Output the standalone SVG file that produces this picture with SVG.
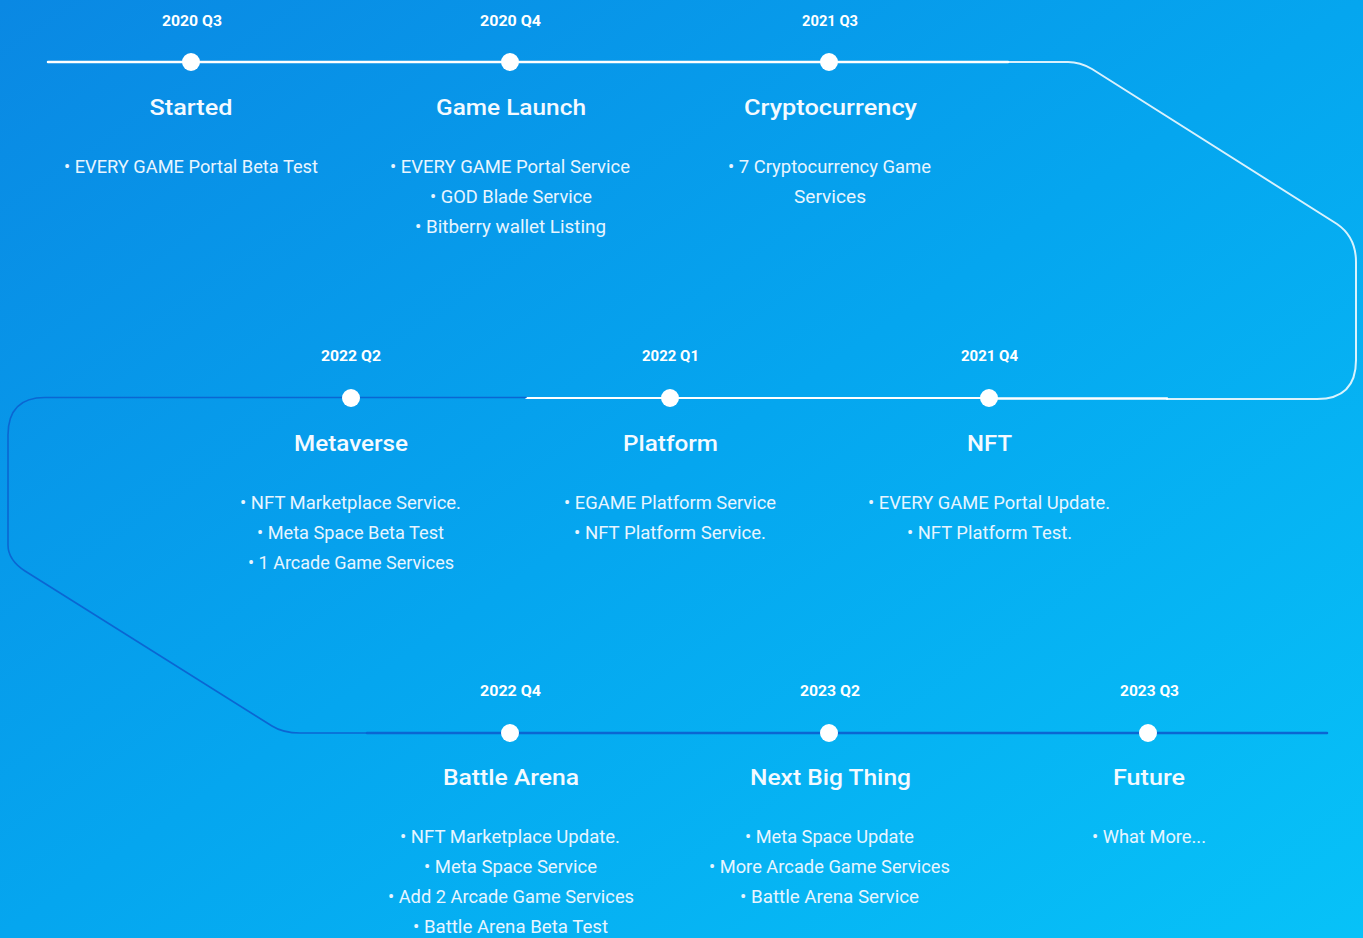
<svg xmlns="http://www.w3.org/2000/svg" width="1363" height="938" viewBox="0 0 1363 938">
<defs>
<linearGradient id="bg" x1="0" y1="0" x2="1" y2="1">
<stop offset="0" stop-color="#0a88e3"/>
<stop offset="0.5" stop-color="#05a6ef"/>
<stop offset="1" stop-color="#07c2f8"/>
</linearGradient>
<style>
.date{font-family:Roboto,"Liberation Sans",sans-serif;font-weight:700;font-size:15px;fill:#ffffff;text-anchor:middle}
.title{font-family:Roboto,"Liberation Sans",sans-serif;font-weight:500;font-size:22px;fill:#f4faff;text-anchor:middle}
.item{font-family:Roboto,"Liberation Sans",sans-serif;font-weight:400;font-size:18px;fill:#e8f5ff;text-anchor:middle}
.dot{fill:#ffffff}
.w{fill:none;stroke:#ffffff;stroke-linecap:round}
.b{fill:none;stroke:#0b66d2;stroke-linecap:round}
</style>
</defs>
<rect width="1363" height="938" fill="url(#bg)"/>
<g id="connectors">
<path class="w" d="M48,62 H1008" stroke-width="2.5"/>
<path class="w" d="M1008,62 H1068 Q1080,62 1092,69 L1337,224 Q1356,237 1356,262 V360 Q1356,399 1317,399 H1167" stroke-width="2" stroke-opacity="0.85"/>
<path class="w" d="M989,398.5 H1167" stroke-width="2.5"/>
<path class="w" d="M526,398 H989" stroke-width="1.8"/>
<path class="b" d="M526,397.5 H45 Q8,397.5 8,435 V545 Q8,560 25,571 L272,726 Q283,733 300,733 H367" stroke-width="1.6"/>
<path class="b" d="M367,733 H1327" stroke-width="2.5"/>
</g>
<g id="n-2020q3">
<circle class="dot" cx="191" cy="62" r="9"/>
<text class="date" x="192" y="26" textLength="60" lengthAdjust="spacingAndGlyphs">2020 Q3</text>
<text class="title" x="191" y="115" textLength="83" lengthAdjust="spacingAndGlyphs">Started</text>
<text class="item" x="191" y="173" textLength="254" lengthAdjust="spacingAndGlyphs">• EVERY GAME Portal Beta Test</text>
</g>
<g id="n-2020q4">
<circle class="dot" cx="510" cy="62" r="9"/>
<text class="date" x="510.5" y="26" textLength="61" lengthAdjust="spacingAndGlyphs">2020 Q4</text>
<text class="title" x="511" y="115" textLength="150" lengthAdjust="spacingAndGlyphs">Game Launch</text>
<text class="item" x="510" y="173" textLength="240" lengthAdjust="spacingAndGlyphs">• EVERY GAME Portal Service</text>
<text class="item" x="511" y="203" textLength="162" lengthAdjust="spacingAndGlyphs">• GOD Blade Service</text>
<text class="item" x="510.5" y="233" textLength="191" lengthAdjust="spacingAndGlyphs">• Bitberry wallet Listing</text>
</g>
<g id="n-2021q3">
<circle class="dot" cx="829" cy="62" r="9"/>
<text class="date" x="830" y="26" textLength="56" lengthAdjust="spacingAndGlyphs">2021 Q3</text>
<text class="title" x="830.5" y="115" textLength="173" lengthAdjust="spacingAndGlyphs">Cryptocurrency</text>
<text class="item" x="829.5" y="173" textLength="203" lengthAdjust="spacingAndGlyphs">• 7 Cryptocurrency Game</text>
<text class="item" x="830" y="203" textLength="72" lengthAdjust="spacingAndGlyphs">Services</text>
</g>
<g id="n-2021q4">
<circle class="dot" cx="989" cy="398" r="9"/>
<text class="date" x="989.5" y="361" textLength="57" lengthAdjust="spacingAndGlyphs">2021 Q4</text>
<text class="title" x="989.5" y="451" textLength="45" lengthAdjust="spacingAndGlyphs">NFT</text>
<text class="item" x="989" y="509" textLength="242" lengthAdjust="spacingAndGlyphs">• EVERY GAME Portal Update.</text>
<text class="item" x="989.5" y="539" textLength="165" lengthAdjust="spacingAndGlyphs">• NFT Platform Test.</text>
</g>
<g id="n-2022q1">
<circle class="dot" cx="670" cy="398" r="9"/>
<text class="date" x="670.5" y="361" textLength="57" lengthAdjust="spacingAndGlyphs">2022 Q1</text>
<text class="title" x="670.5" y="451" textLength="95" lengthAdjust="spacingAndGlyphs">Platform</text>
<text class="item" x="670" y="509" textLength="212" lengthAdjust="spacingAndGlyphs">• EGAME Platform Service</text>
<text class="item" x="670" y="539" textLength="192" lengthAdjust="spacingAndGlyphs">• NFT Platform Service.</text>
</g>
<g id="n-2022q2">
<circle class="dot" cx="351" cy="398" r="9"/>
<text class="date" x="351" y="361" textLength="60" lengthAdjust="spacingAndGlyphs">2022 Q2</text>
<text class="title" x="351" y="451" textLength="114" lengthAdjust="spacingAndGlyphs">Metaverse</text>
<text class="item" x="350.5" y="509" textLength="221" lengthAdjust="spacingAndGlyphs">• NFT Marketplace Service.</text>
<text class="item" x="350.5" y="539" textLength="187" lengthAdjust="spacingAndGlyphs">• Meta Space Beta Test</text>
<text class="item" x="351" y="569" textLength="206" lengthAdjust="spacingAndGlyphs">• 1 Arcade Game Services</text>
</g>
<g id="n-2022q4">
<circle class="dot" cx="510" cy="733" r="9"/>
<text class="date" x="510.5" y="696" textLength="61" lengthAdjust="spacingAndGlyphs">2022 Q4</text>
<text class="title" x="511" y="785" textLength="136" lengthAdjust="spacingAndGlyphs">Battle Arena</text>
<text class="item" x="510" y="843" textLength="220" lengthAdjust="spacingAndGlyphs">• NFT Marketplace Update.</text>
<text class="item" x="510.5" y="873" textLength="173" lengthAdjust="spacingAndGlyphs">• Meta Space Service</text>
<text class="item" x="511" y="903" textLength="246" lengthAdjust="spacingAndGlyphs">• Add 2 Arcade Game Services</text>
<text class="item" x="510.5" y="933" textLength="195" lengthAdjust="spacingAndGlyphs">• Battle Arena Beta Test</text>
</g>
<g id="n-2023q2">
<circle class="dot" cx="829" cy="733" r="9"/>
<text class="date" x="830" y="696" textLength="60" lengthAdjust="spacingAndGlyphs">2023 Q2</text>
<text class="title" x="830.5" y="785" textLength="161" lengthAdjust="spacingAndGlyphs">Next Big Thing</text>
<text class="item" x="829.5" y="843" textLength="169" lengthAdjust="spacingAndGlyphs">• Meta Space Update</text>
<text class="item" x="829.5" y="873" textLength="241" lengthAdjust="spacingAndGlyphs">• More Arcade Game Services</text>
<text class="item" x="829.5" y="903" textLength="179" lengthAdjust="spacingAndGlyphs">• Battle Arena Service</text>
</g>
<g id="n-2023q3">
<circle class="dot" cx="1148" cy="733" r="9"/>
<text class="date" x="1149.5" y="696" textLength="59" lengthAdjust="spacingAndGlyphs">2023 Q3</text>
<text class="title" x="1149" y="785" textLength="72" lengthAdjust="spacingAndGlyphs">Future</text>
<text class="item" x="1149" y="843" textLength="114" lengthAdjust="spacingAndGlyphs">• What More...</text>
</g>
</svg>
